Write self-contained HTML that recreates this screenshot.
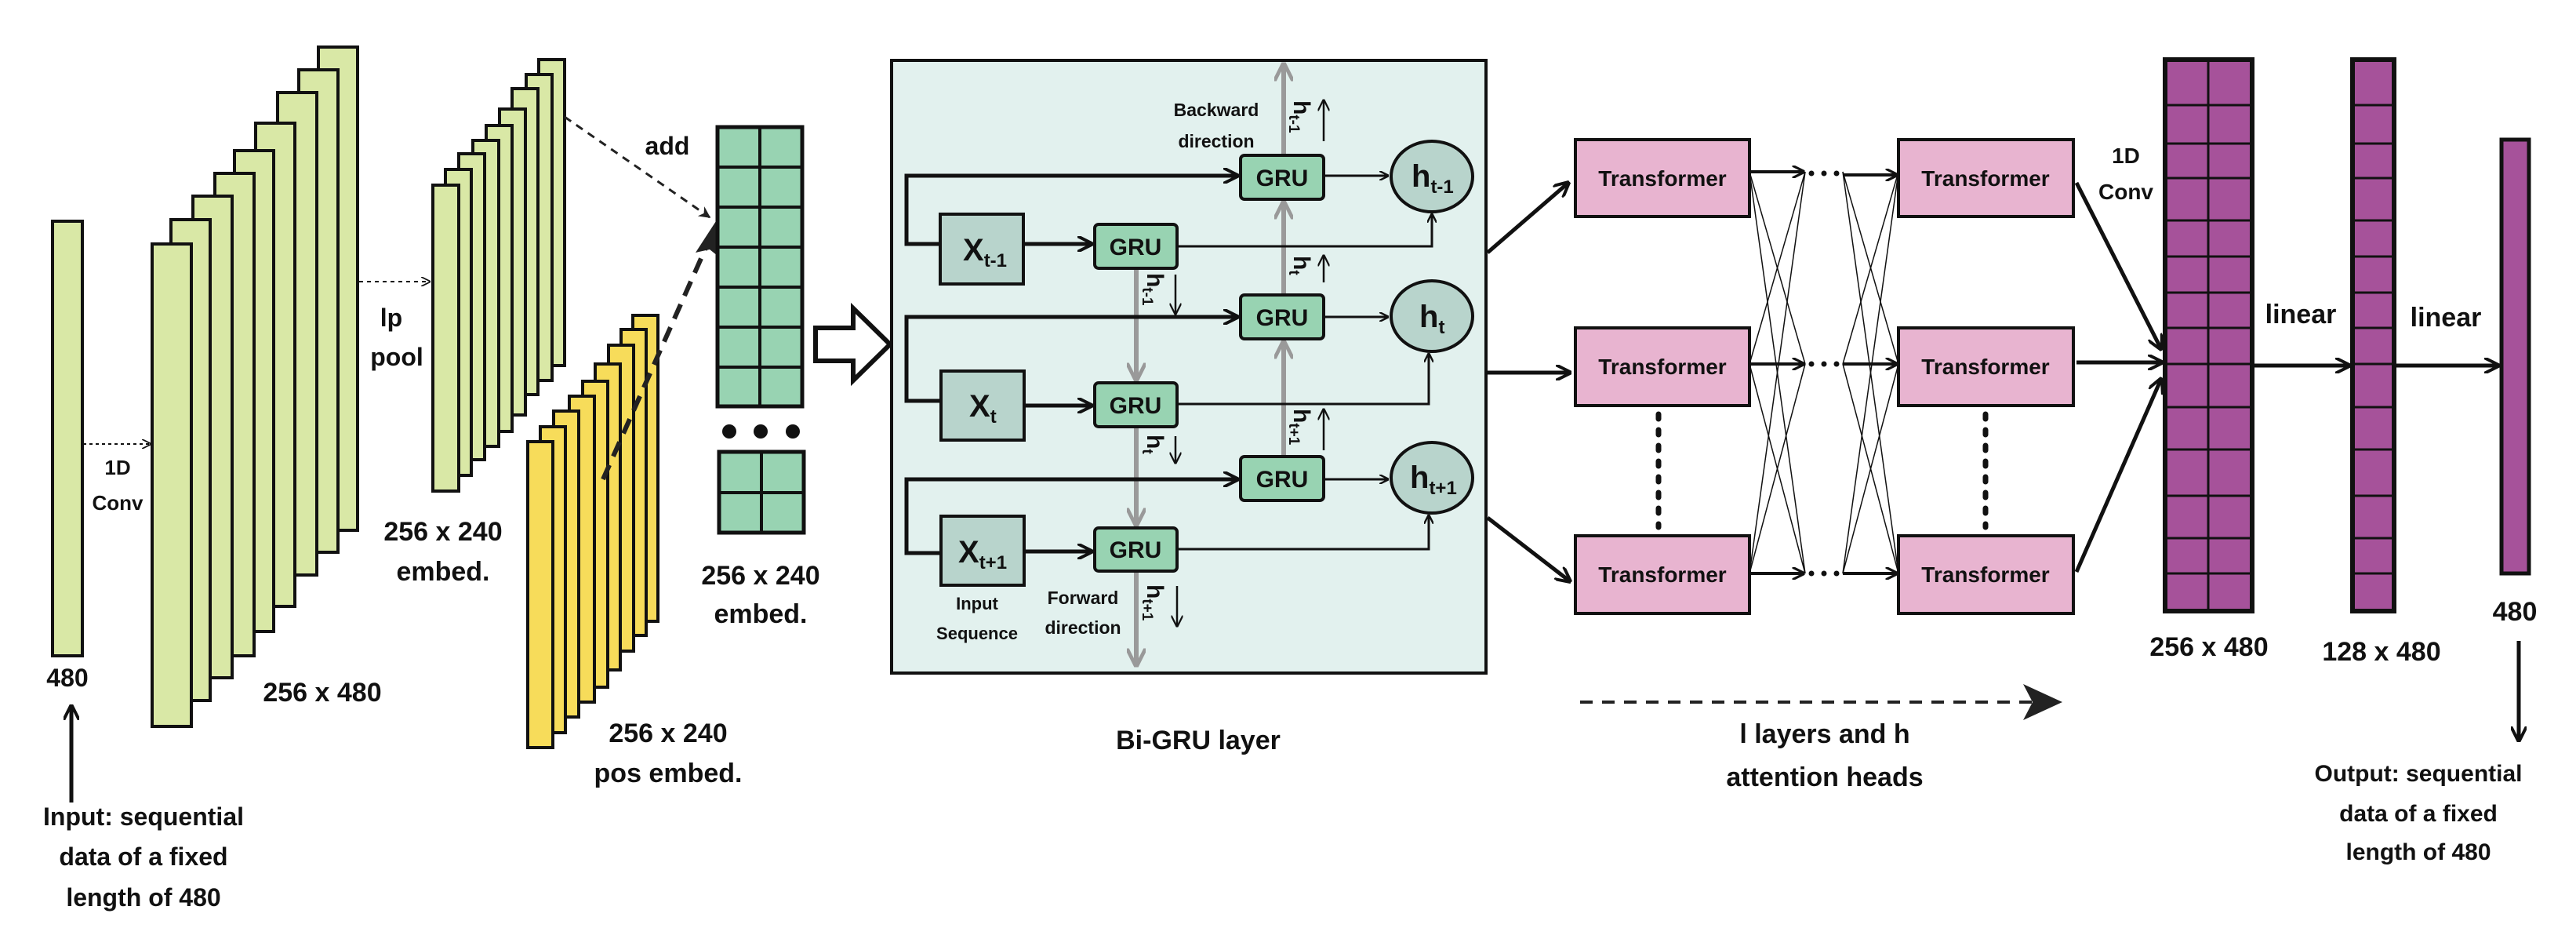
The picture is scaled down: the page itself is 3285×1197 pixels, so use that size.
<!DOCTYPE html>
<html><head><meta charset="utf-8"><style>
html,body{margin:0;padding:0;background:#fff;}
svg{display:block;}
text{font-family:"Liberation Sans",sans-serif;font-weight:bold;fill:#111;}
</style></head><body>
<svg width="3285" height="1197" viewBox="0 0 3285 1197" xmlns="http://www.w3.org/2000/svg">
<defs>
<marker id="a" viewBox="0 0 10 10" refX="9" refY="5" markerWidth="4" markerHeight="4" orient="auto-start-reverse"><path d="M0,0 L10,5 L0,10" fill="none" stroke="#111" stroke-width="2"/></marker>
<marker id="as" viewBox="0 0 10 10" refX="9" refY="5" markerWidth="6" markerHeight="6" orient="auto"><path d="M0,0 L10,5 L0,10" fill="none" stroke="#111" stroke-width="1.5"/></marker>
<marker id="ag" viewBox="0 0 10 10" refX="9" refY="5" markerWidth="4" markerHeight="4" orient="auto"><path d="M0,0 L10,5 L0,10" fill="none" stroke="#999" stroke-width="2"/></marker>
<marker id="af" viewBox="0 0 10 10" refX="9" refY="5" markerWidth="5" markerHeight="5" orient="auto"><path d="M0,0 L10,5 L0,10 L3,5Z" fill="#222"/></marker>
</defs>

<rect x="67" y="282" width="38" height="554" fill="#d9e8a6" stroke="#111" stroke-width="4"/>
<text x="86" y="875" font-size="32" text-anchor="middle">480</text>
<line x1="91" y1="1023" x2="91" y2="900" stroke="#111" stroke-width="5" marker-end="url(#a)"/>
<text x="183" y="1052" font-size="32" text-anchor="middle">Input: sequential</text>
<text x="183" y="1103" font-size="32" text-anchor="middle">data of a fixed</text>
<text x="183" y="1155" font-size="32" text-anchor="middle">length of 480</text>

<line x1="106" y1="566" x2="192" y2="566" stroke="#111" stroke-width="2" stroke-dasharray="4,4" marker-end="url(#as)"/>
<text x="150" y="605" font-size="26" text-anchor="middle">1D</text>
<text x="150" y="650" font-size="26" text-anchor="middle">Conv</text>

<g fill="#d9e8a6" stroke="#111" stroke-width="4">
<rect x="406" y="60" width="50" height="616"/>
<rect x="381" y="89" width="50" height="615"/>
<rect x="354" y="118" width="50" height="615"/>
<rect x="326" y="157" width="50" height="616"/>
<rect x="299" y="192" width="50" height="613"/>
<rect x="274" y="221" width="50" height="615"/>
<rect x="246" y="250" width="50" height="614"/>
<rect x="218" y="280" width="50" height="613"/>
<rect x="194" y="311" width="50" height="615"/>
</g>
<text x="411" y="894" font-size="34" text-anchor="middle">256 x 480</text>

<line x1="458" y1="359" x2="548" y2="359" stroke="#111" stroke-width="2" stroke-dasharray="5,5" marker-end="url(#as)"/>
<text x="499" y="416" font-size="32" text-anchor="middle">lp</text>
<text x="506" y="466" font-size="32" text-anchor="middle">pool</text>

<g fill="#d9e8a6" stroke="#111" stroke-width="4">
<rect x="687" y="76" width="33" height="390"/>
<rect x="671" y="95" width="33" height="390"/>
<rect x="653" y="113" width="33" height="390"/>
<rect x="637" y="139" width="33" height="390"/>
<rect x="620" y="160" width="33" height="390"/>
<rect x="603" y="179" width="33" height="390"/>
<rect x="585" y="196" width="33" height="390"/>
<rect x="568" y="216" width="33" height="390"/>
<rect x="552" y="236" width="33" height="390"/>
</g>
<text x="565" y="689" font-size="34" text-anchor="middle">256 x 240</text>
<text x="565" y="740" font-size="34" text-anchor="middle">embed.</text>

<g fill="#f7dc5a" stroke="#111" stroke-width="4">
<rect x="807" y="402" width="32" height="390"/>
<rect x="792" y="420" width="32" height="390"/>
<rect x="776" y="440" width="32" height="390"/>
<rect x="759" y="464" width="32" height="390"/>
<rect x="743" y="486" width="32" height="390"/>
<rect x="726" y="505" width="32" height="390"/>
<rect x="706" y="524" width="32" height="390"/>
<rect x="689" y="544" width="32" height="390"/>
<rect x="673" y="563" width="32" height="390"/>
</g>
<text x="852" y="946" font-size="34" text-anchor="middle">256 x 240</text>
<text x="852" y="997" font-size="34" text-anchor="middle">pos embed.</text>

<line x1="720" y1="149" x2="905" y2="277" stroke="#222" stroke-width="3" stroke-dasharray="10,8" marker-end="url(#af)"/>
<text x="851" y="197" font-size="32" text-anchor="middle">add</text>
<line x1="769" y1="611" x2="908" y2="298" stroke="#222" stroke-width="6" stroke-dasharray="20,12"/>
<path d="M913,282 L920,330 L905,318 L887,322 Z" fill="#222"/>

<rect x="915" y="162" width="108" height="356" fill="#98d3b2" stroke="#111" stroke-width="5"/>
<line x1="969" y1="162" x2="969" y2="518" stroke="#111" stroke-width="4"/>
<g stroke="#111" stroke-width="4">
<line x1="915" y1="213" x2="1023" y2="213"/><line x1="915" y1="264" x2="1023" y2="264"/>
<line x1="915" y1="315" x2="1023" y2="315"/><line x1="915" y1="366" x2="1023" y2="366"/>
<line x1="915" y1="417" x2="1023" y2="417"/><line x1="915" y1="468" x2="1023" y2="468"/>
</g>
<circle cx="930" cy="550" r="9" fill="#111"/><circle cx="970" cy="550" r="9" fill="#111"/><circle cx="1011" cy="550" r="9" fill="#111"/>
<rect x="917" y="576" width="108" height="103" fill="#98d3b2" stroke="#111" stroke-width="5"/>
<line x1="971" y1="576" x2="971" y2="679" stroke="#111" stroke-width="4"/>
<line x1="917" y1="628" x2="1025" y2="628" stroke="#111" stroke-width="4"/>
<text x="970" y="745" font-size="34" text-anchor="middle">256 x 240</text>
<text x="970" y="794" font-size="34" text-anchor="middle">embed.</text>

<path d="M1040,418 L1088,418 L1088,393 L1135,439 L1088,485 L1088,460 L1040,460 Z" fill="#fff" stroke="#111" stroke-width="6"/>

<rect x="1137" y="77" width="758" height="781" fill="#e2f1ee" stroke="#111" stroke-width="4"/>
<g stroke="#9a9a9a" stroke-width="6" fill="none">
<line x1="1637" y1="198" x2="1637" y2="82" marker-end="url(#ag)"/>
<line x1="1637" y1="376" x2="1637" y2="258" marker-end="url(#ag)"/>
<line x1="1637" y1="582" x2="1637" y2="436" marker-end="url(#ag)"/>
<line x1="1449" y1="342" x2="1449" y2="484" marker-end="url(#ag)"/>
<line x1="1449" y1="544" x2="1449" y2="669" marker-end="url(#ag)"/>
<line x1="1449" y1="728" x2="1449" y2="848" marker-end="url(#ag)"/>
</g>
<g stroke="#111" stroke-width="5" fill="none">
<polyline points="1199,311 1156,311 1156,224 1578,224" marker-end="url(#a)"/>
<polyline points="1199,511 1156,511 1156,404 1578,404" marker-end="url(#a)"/>
<polyline points="1199,705 1156,705 1156,611 1578,611" marker-end="url(#a)"/>
<line x1="1307" y1="311" x2="1392" y2="311" marker-end="url(#a)"/>
<line x1="1307" y1="517" x2="1392" y2="517" marker-end="url(#a)"/>
<line x1="1307" y1="703" x2="1392" y2="703" marker-end="url(#a)"/>
</g>
<g stroke="#111" stroke-width="3" fill="none">
<polyline points="1501,314 1826,314 1826,273" marker-end="url(#a)"/>
<polyline points="1501,515 1822,515 1822,451" marker-end="url(#a)"/>
<polyline points="1501,700 1822,700 1822,657" marker-end="url(#a)"/>
<line x1="1688" y1="224" x2="1770" y2="224" marker-end="url(#a)"/>
<line x1="1688" y1="404" x2="1770" y2="404" marker-end="url(#a)"/>
<line x1="1688" y1="611" x2="1770" y2="611" marker-end="url(#a)"/>
</g>
<g fill="#b8d4cc" stroke="#111" stroke-width="4">
<rect x="1199" y="273" width="106" height="89"/>
<rect x="1200" y="473" width="106" height="88"/>
<rect x="1200" y="658" width="106" height="88"/>
</g>
<text x="1228" y="332" font-size="40">X<tspan font-size="24" dy="8">t-1</tspan></text>
<text x="1236" y="531" font-size="40">X<tspan font-size="24" dy="8">t</tspan></text>
<text x="1222" y="717" font-size="40">X<tspan font-size="24" dy="8">t+1</tspan></text>
<g fill="#98d3b2" stroke="#111" stroke-width="4">
<rect x="1582" y="198" width="106" height="56" rx="5"/>
<rect x="1582" y="376" width="106" height="56" rx="5"/>
<rect x="1582" y="582" width="106" height="56" rx="5"/>
<rect x="1396" y="286" width="105" height="56" rx="5"/>
<rect x="1396" y="488" width="105" height="56" rx="5"/>
<rect x="1396" y="673" width="105" height="55" rx="5"/>
</g>
<g font-size="30" text-anchor="middle">
<text x="1635" y="237">GRU</text><text x="1635" y="415">GRU</text><text x="1635" y="621">GRU</text>
<text x="1448" y="325">GRU</text><text x="1448" y="527">GRU</text><text x="1448" y="711">GRU</text>
</g>
<g fill="#b8d4cc" stroke="#111" stroke-width="4">
<ellipse cx="1826" cy="225" rx="52" ry="45"/>
<ellipse cx="1826" cy="403" rx="52" ry="45"/>
<ellipse cx="1826" cy="609" rx="52" ry="45"/>
</g>
<text x="1800" y="238" font-size="40">h<tspan font-size="24" dy="8">t-1</tspan></text>
<text x="1810" y="417" font-size="40">h<tspan font-size="24" dy="8">t</tspan></text>
<text x="1798" y="622" font-size="40">h<tspan font-size="24" dy="8">t+1</tspan></text>
<g font-size="30" font-weight="normal">
<text transform="translate(1650,128) rotate(90)">h<tspan font-size="19" dy="6">t-1</tspan></text>
<text transform="translate(1650,326) rotate(90)">h<tspan font-size="19" dy="6">t</tspan></text>
<text transform="translate(1650,521) rotate(90)">h<tspan font-size="19" dy="6">t+1</tspan></text>
<text transform="translate(1463,348) rotate(90)">h<tspan font-size="19" dy="6">t-1</tspan></text>
<text transform="translate(1463,554) rotate(90)">h<tspan font-size="19" dy="6">t</tspan></text>
<text transform="translate(1463,745) rotate(90)">h<tspan font-size="19" dy="6">t+1</tspan></text>
</g>
<g stroke="#111" stroke-width="2.5">
<line x1="1688" y1="180" x2="1688" y2="128" marker-end="url(#as)"/>
<line x1="1688" y1="360" x2="1688" y2="326" marker-end="url(#as)"/>
<line x1="1688" y1="574" x2="1688" y2="522" marker-end="url(#as)"/>
<line x1="1499" y1="350" x2="1499" y2="400" marker-end="url(#as)"/>
<line x1="1499" y1="556" x2="1499" y2="590" marker-end="url(#as)"/>
<line x1="1501" y1="747" x2="1501" y2="798" marker-end="url(#as)"/>
</g>
<text x="1551" y="148" font-size="23" text-anchor="middle">Backward</text>
<text x="1551" y="188" font-size="23" text-anchor="middle">direction</text>
<text x="1246" y="777" font-size="22" text-anchor="middle">Input</text>
<text x="1246" y="815" font-size="22" text-anchor="middle">Sequence</text>
<text x="1381" y="770" font-size="23" text-anchor="middle">Forward</text>
<text x="1381" y="808" font-size="23" text-anchor="middle">direction</text>
<text x="1528" y="955" font-size="34" text-anchor="middle">Bi-GRU layer</text>

<g stroke="#111" stroke-width="5" fill="none">
<line x1="1897" y1="322" x2="2000" y2="233" marker-end="url(#a)"/>
<line x1="1897" y1="475" x2="2002" y2="475" marker-end="url(#a)"/>
<line x1="1897" y1="660" x2="2002" y2="741" marker-end="url(#a)"/>
</g>
<g fill="#e8b4d0" stroke="#111" stroke-width="4">
<rect x="2009" y="178" width="222" height="98"/>
<rect x="2009" y="418" width="222" height="99"/>
<rect x="2009" y="683" width="222" height="99"/>
<rect x="2421" y="178" width="223" height="98"/>
<rect x="2421" y="418" width="223" height="99"/>
<rect x="2421" y="683" width="223" height="99"/>
</g>
<g font-size="28" text-anchor="middle">
<text x="2120" y="237">Transformer</text><text x="2120" y="477">Transformer</text><text x="2120" y="742">Transformer</text>
<text x="2532" y="237">Transformer</text><text x="2532" y="477">Transformer</text><text x="2532" y="742">Transformer</text>
</g>
<g stroke="#111" stroke-width="1.5">
<line x1="2231" y1="219" x2="2302" y2="464"/><line x1="2231" y1="219" x2="2302" y2="731"/>
<line x1="2231" y1="464" x2="2302" y2="219"/><line x1="2231" y1="464" x2="2302" y2="731"/>
<line x1="2231" y1="731" x2="2302" y2="219"/><line x1="2231" y1="731" x2="2302" y2="464"/>
<line x1="2350" y1="219" x2="2421" y2="464"/><line x1="2350" y1="219" x2="2421" y2="731"/>
<line x1="2350" y1="464" x2="2421" y2="219"/><line x1="2350" y1="464" x2="2421" y2="731"/>
<line x1="2350" y1="731" x2="2421" y2="219"/><line x1="2350" y1="731" x2="2421" y2="464"/>
</g>
<g stroke="#111" stroke-width="4">
<line x1="2233" y1="219" x2="2300" y2="219" marker-end="url(#a)"/>
<line x1="2233" y1="464" x2="2300" y2="464" marker-end="url(#a)"/>
<line x1="2233" y1="731" x2="2300" y2="731" marker-end="url(#a)"/>
<line x1="2350" y1="223" x2="2419" y2="223" marker-end="url(#a)"/>
<line x1="2350" y1="464" x2="2419" y2="464" marker-end="url(#a)"/>
<line x1="2350" y1="731" x2="2419" y2="731" marker-end="url(#a)"/>
</g>
<g fill="#111">
<circle cx="2310" cy="221" r="3.5"/><circle cx="2326" cy="221" r="3.5"/><circle cx="2342" cy="221" r="3.5"/>
<circle cx="2310" cy="464" r="3.5"/><circle cx="2326" cy="464" r="3.5"/><circle cx="2342" cy="464" r="3.5"/>
<circle cx="2310" cy="731" r="3.5"/><circle cx="2326" cy="731" r="3.5"/><circle cx="2342" cy="731" r="3.5"/>
</g>
<line x1="2115" y1="528" x2="2115" y2="672" stroke="#111" stroke-width="7" stroke-dasharray="6,14" stroke-linecap="round"/>
<line x1="2532" y1="528" x2="2532" y2="672" stroke="#111" stroke-width="7" stroke-dasharray="6,14" stroke-linecap="round"/>

<line x1="2015" y1="895" x2="2600" y2="895" stroke="#222" stroke-width="4" stroke-dasharray="16,12"/>
<path d="M2630,895 L2580,872 L2592,895 L2580,918 Z" fill="#222"/>
<text x="2327" y="947" font-size="34" text-anchor="middle">l layers and h</text>
<text x="2327" y="1002" font-size="34" text-anchor="middle">attention heads</text>

<g stroke="#111" stroke-width="5" fill="none">
<line x1="2648" y1="233" x2="2756" y2="445" marker-end="url(#a)"/>
<line x1="2648" y1="462" x2="2757" y2="462" marker-end="url(#a)"/>
<line x1="2648" y1="729" x2="2756" y2="483" marker-end="url(#a)"/>
</g>
<text x="2711" y="208" font-size="28" text-anchor="middle">1D</text>
<text x="2711" y="254" font-size="28" text-anchor="middle">Conv</text>

<rect x="2761" y="76" width="111" height="703" fill="#a6529a" stroke="#111" stroke-width="6"/>
<line x1="2816" y1="76" x2="2816" y2="779" stroke="#111" stroke-width="3"/>
<g stroke="#111" stroke-width="3">
<line x1="2761" y1="134" x2="2872" y2="134"/><line x1="2761" y1="183" x2="2872" y2="183"/>
<line x1="2761" y1="227" x2="2872" y2="227"/><line x1="2761" y1="281" x2="2872" y2="281"/>
<line x1="2761" y1="327" x2="2872" y2="327"/><line x1="2761" y1="373" x2="2872" y2="373"/>
<line x1="2761" y1="418" x2="2872" y2="418"/><line x1="2761" y1="464" x2="2872" y2="464"/>
<line x1="2761" y1="519" x2="2872" y2="519"/><line x1="2761" y1="573" x2="2872" y2="573"/>
<line x1="2761" y1="632" x2="2872" y2="632"/><line x1="2761" y1="686" x2="2872" y2="686"/>
<line x1="2761" y1="731" x2="2872" y2="731"/>
</g>
<rect x="3000" y="76" width="53" height="703" fill="#a6529a" stroke="#111" stroke-width="6"/>
<g stroke="#111" stroke-width="3">
<line x1="3000" y1="134" x2="3053" y2="134"/><line x1="3000" y1="183" x2="3053" y2="183"/>
<line x1="3000" y1="227" x2="3053" y2="227"/><line x1="3000" y1="281" x2="3053" y2="281"/>
<line x1="3000" y1="327" x2="3053" y2="327"/><line x1="3000" y1="373" x2="3053" y2="373"/>
<line x1="3000" y1="418" x2="3053" y2="418"/><line x1="3000" y1="464" x2="3053" y2="464"/>
<line x1="3000" y1="519" x2="3053" y2="519"/><line x1="3000" y1="573" x2="3053" y2="573"/>
<line x1="3000" y1="632" x2="3053" y2="632"/><line x1="3000" y1="686" x2="3053" y2="686"/>
<line x1="3000" y1="731" x2="3053" y2="731"/>
</g>
<rect x="3190" y="178" width="35" height="553" fill="#a6529a" stroke="#111" stroke-width="5"/>
<g stroke="#111" stroke-width="5">
<line x1="2872" y1="466" x2="2996" y2="466" marker-end="url(#a)"/>
<line x1="3053" y1="466" x2="3186" y2="466" marker-end="url(#a)"/>
</g>
<text x="2934" y="412" font-size="34" text-anchor="middle">linear</text>
<text x="3119" y="416" font-size="34" text-anchor="middle">linear</text>
<text x="2817" y="836" font-size="34" text-anchor="middle">256 x 480</text>
<text x="3037" y="842" font-size="34" text-anchor="middle">128 x 480</text>
<text x="3207" y="791" font-size="34" text-anchor="middle">480</text>
<line x1="3212" y1="817" x2="3212" y2="944" stroke="#111" stroke-width="5" marker-end="url(#a)"/>
<text x="3084" y="996" font-size="30" text-anchor="middle">Output: sequential</text>
<text x="3084" y="1047" font-size="30" text-anchor="middle">data of a fixed</text>
<text x="3084" y="1096" font-size="30" text-anchor="middle">length of 480</text>
</svg>
</body></html>
